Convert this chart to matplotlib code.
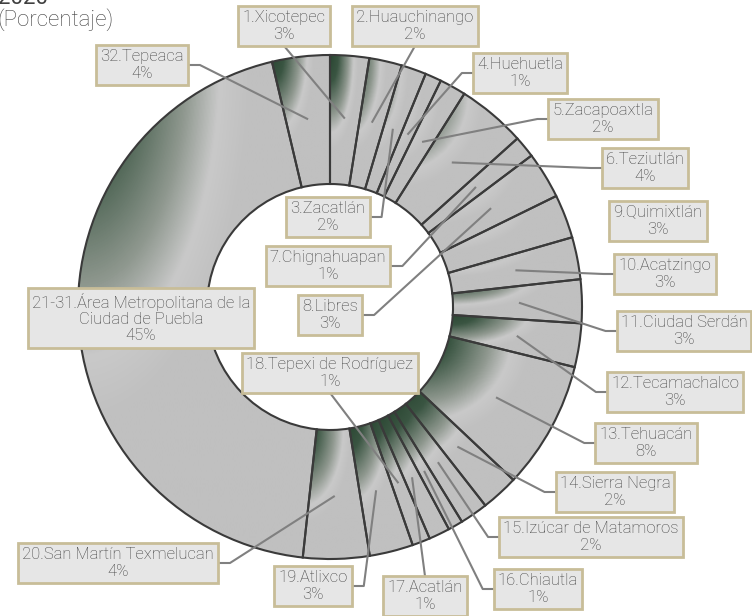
import numpy as np
import matplotlib
matplotlib.use('Agg')
import matplotlib.pyplot as plt
from matplotlib.colors import LinearSegmentedColormap

plt.rcParams['font.family'] = ['Roboto', 'DejaVu Sans']

# data: share of each region (percent), clockwise from 12 o'clock
names = ['1.Xicotepec', '2.Huauchinango', '3.Zacatlán', '4.Huehuetla', '5.Zacapoaxtla',
         '6.Teziutlán', '7.Chignahuapan', '8.Libres', '9.Quimixtlán', '10.Acatzingo',
         '11.Ciudad Serdán', '12.Tecamachalco', '13.Tehuacán', '14.Sierra Negra',
         '15.Izúcar de Matamoros', '16.Chiautla', '17.Acatlán', '18.Tepexi de Rodríguez',
         '19.Atlixco', '20.San Martín Texmelucan',
         '21-31.Área Metropolitana de la\nCiudad de Puebla', '32.Tepeaca']
values = [2.5, 2.1, 1.6, 1.05, 1.7, 4.4, 1.4, 3.0, 2.8, 2.7, 2.8, 2.8, 8.2, 2.4,
          1.8, 0.95, 1.35, 1.15, 2.8, 4.25, 44.6, 3.7]
pct_labels = ['3%', '2%', '2%', '1%', '2%', '4%', '1%', '3%', '3%', '3%', '3%', '3%',
              '8%', '2%', '2%', '1%', '1%', '1%', '3%', '4%', '45%', '4%']

# layout in reference pixels (y measured downward)
W, H = 752, 616
cx, cy = 330, 307
R_out, R_in = 252, 123
box_pos = [(284, 26), (415, 26), (328, 217), (520, 73), (603, 119), (645, 168),
           (328, 266), (330, 315), (658, 221), (665, 274), (684, 331), (675, 392),
           (646, 443), (615, 492), (591, 537), (538, 589), (425, 596), (330, 373),
           (313, 586), (118, 563), (141, 318), (142, 65)]
leader = ['bottom', 'bottom', 'right', 'left', 'left', 'left', 'right', 'right', None,
          'left', 'left', 'left', 'left', 'left', 'left', 'left', 'top', 'bottom',
          'right', 'right', None, 'right']


def fy(y):
    return H - y


fig = plt.figure(figsize=(7.52, 6.16), dpi=100)
ax = fig.add_axes([0, 0, 1, 1])

wedges, _ = ax.pie(values, radius=R_out, center=(cx, fy(cy)), startangle=90,
                   counterclock=False, colors=['none'] * len(values), frame=True,
                   wedgeprops=dict(width=R_out - R_in, edgecolor='#3a3a3a', linewidth=1.5))

# each slice: radial gradient from the top-left corner of its own bounding box
cmap = LinearSegmentedColormap.from_list(
    'slice', [(0, '#2b4733'), (0.14, '#3a5542'), (0.32, '#8f988f'), (0.42, '#c9c9c9'),
              (0.51, '#c0c0c0'), (1, '#c0c0c0')])
for w in wedges:
    ext = w.get_path().get_extents()
    nx_ = max(int(ext.width), 2)
    ny_ = max(int(ext.height), 2)
    U, V = np.meshgrid(np.linspace(0, 1, nx_), np.linspace(0, 1, ny_))
    im = ax.imshow(np.sqrt(U ** 2 + V ** 2) / np.sqrt(2), cmap=cmap, vmin=0, vmax=1,
                   aspect='auto', extent=(ext.x0, ext.x1, ext.y0, ext.y1),
                   interpolation='bilinear', zorder=0.5)
    im.set_clip_path(w)
    w.set_zorder(2)

ax.set_xlim(0, W)
ax.set_ylim(0, H)
ax.set_aspect('auto')
ax.axis('off')

texts = []
for name, pct, (bx, by) in zip(names, pct_labels, box_pos):
    t = ax.text(bx, fy(by), f'{name}\n{pct}', ha='center', va='center', fontsize=12,
                fontweight='light', color='#404040', linespacing=1.12, zorder=6,
                bbox=dict(boxstyle='square,pad=0.25', fc='#e6e6e6', ec='#c8bd98', lw=2))
    texts.append(t)

ax.text(-2, fy(-2), '2020', fontsize=16, color='#404040', ha='left', va='center')
ax.text(-3, fy(20), '(Porcentaje)', fontsize=16, fontweight='light', color='#404040',
        ha='left', va='center')

fig.canvas.draw()
renderer = fig.canvas.get_renderer()
total = sum(values)
cum = np.cumsum([0] + values)
for i, t in enumerate(texts):
    if leader[i] is None:
        continue
    theta = np.deg2rad(360 * (cum[i] + values[i] / 2) / total)
    axp = cx + 0.75 * R_out * np.sin(theta)
    ayp = fy(cy - 0.75 * R_out * np.cos(theta))
    bb = t.get_bbox_patch().get_window_extent(renderer)
    bxc, byc = (bb.x0 + bb.x1) / 2, (bb.y0 + bb.y1) / 2
    if leader[i] == 'left':
        xs, ys = [axp, bb.x0 - 11, bb.x0], [ayp, byc, byc]
    elif leader[i] == 'right':
        xs, ys = [axp, bb.x1 + 12, bb.x1], [ayp, byc, byc]
    elif leader[i] == 'bottom':
        xs, ys = [axp, bxc], [ayp, bb.y0]
    else:
        xs, ys = [axp, bxc], [ayp, bb.y1]
    ax.plot(xs, ys, color='#808080', lw=1.5, zorder=4, solid_capstyle='butt')

fig.savefig('out.png', dpi=100)
